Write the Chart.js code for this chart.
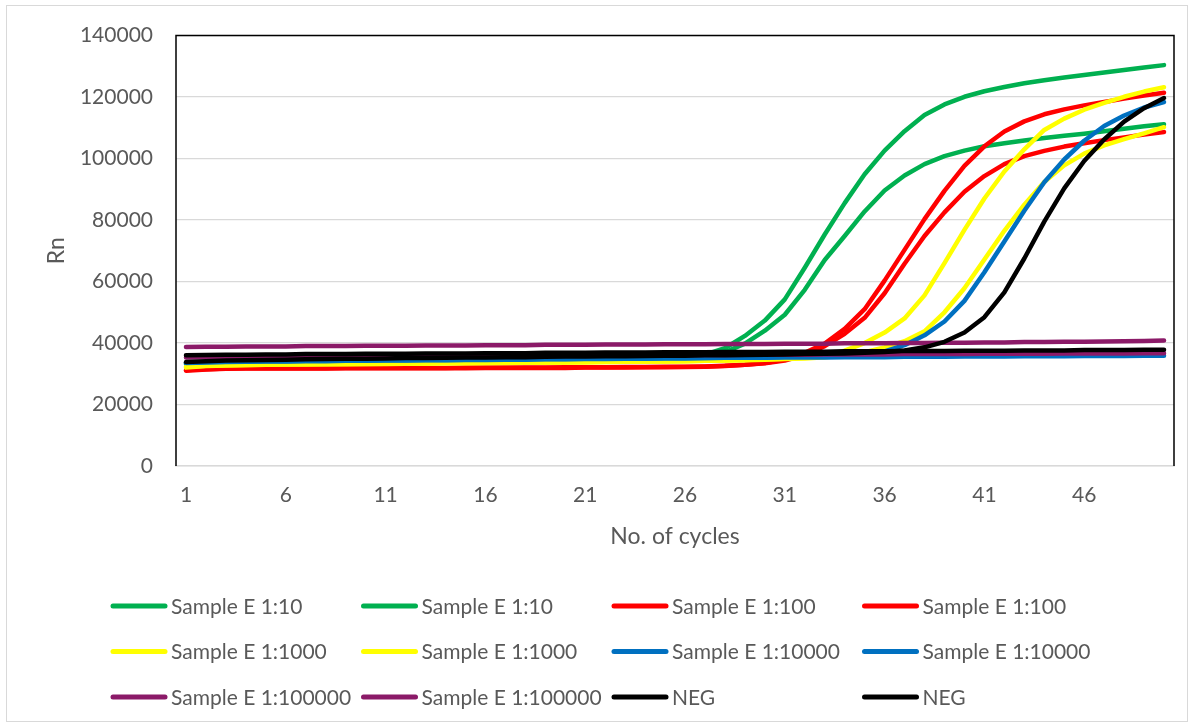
<!DOCTYPE html>
<html>
<head>
<meta charset="utf-8">
<title>Rn vs cycles</title>
<script src="https://cdn.jsdelivr.net/npm/chart.js@4.4.1/dist/chart.umd.min.js"></script>
<style>
  html, body { margin: 0; padding: 0; background: #fff; }
  canvas { display: block; }
</style>
</head>
<body>
<canvas id="rnChart" width="1194" height="728"></canvas>
<script>
// cycle numbers on the x axis
const cycles = [1, 2, 3, 4, 5, 6, 7, 8, 9, 10,
    11, 12, 13, 14, 15, 16, 17, 18, 19, 20,
    21, 22, 23, 24, 25, 26, 27, 28, 29, 30,
    31, 32, 33, 34, 35, 36, 37, 38, 39, 40,
    41, 42, 43, 44, 45, 46, 47, 48, 49, 50];

// y axis range
const rnMin = 0;
const rnMax = 140000;
const rnStep = 20000;

// Rn readings per cycle
const e10a = [33500, 33600, 33600, 33700, 33700, 33800, 33800, 33800, 33900, 33900,
    33900, 34000, 34000, 34000, 34100, 34100, 34100, 34200, 34200, 34200,
    34300, 34300, 34400, 34500, 34700, 35100, 36200, 38300, 42300, 47300,
    54200, 64500, 75300, 85500, 94900, 102600, 108900, 114200, 117600, 120100,
    121900, 123300, 124500, 125500, 126400, 127200, 128000, 128800, 129600, 130400];
const e10b = [33200, 33300, 33300, 33400, 33400, 33500, 33500, 33500, 33600, 33600,
    33600, 33700, 33700, 33700, 33800, 33800, 33800, 33900, 33900, 33900,
    34000, 34000, 34100, 34200, 34400, 34800, 35500, 37000, 39800, 44000,
    49200, 57300, 67000, 74800, 82800, 89600, 94500, 98200, 100800, 102600,
    104000, 105000, 105900, 106700, 107400, 108100, 108900, 109700, 110500, 111200];
const e100a = [31000, 31400, 31600, 31700, 31700, 31700, 31700, 31700, 31800, 31800,
    31800, 31800, 31800, 31800, 31800, 31900, 31900, 31900, 31900, 31900,
    32000, 32000, 32000, 32100, 32100, 32200, 32300, 32500, 32900, 33500,
    34600, 36800, 39800, 44600, 51000, 60300, 70300, 80300, 89500, 97600,
    104000, 108800, 112100, 114400, 116000, 117300, 118400, 119500, 120500, 121400];
const e100b = [31200, 31500, 31700, 31800, 31800, 31800, 31800, 31800, 31900, 31900,
    31900, 31900, 31900, 31900, 32000, 32000, 32000, 32000, 32000, 32100,
    32100, 32100, 32200, 32200, 32300, 32300, 32400, 32600, 32900, 33400,
    34300, 36100, 39000, 43000, 48200, 56200, 65800, 74800, 82500, 89200,
    94300, 98200, 100800, 102500, 103900, 105000, 106000, 106900, 107800, 108600];
const e1000a = [32000, 32500, 32700, 32800, 32900, 33000, 33000, 33100, 33100, 33200,
    33200, 33300, 33300, 33400, 33400, 33500, 33500, 33600, 33600, 33700,
    33700, 33800, 33900, 33900, 34000, 34100, 34200, 34300, 34500, 34700,
    34900, 35300, 36000, 37500, 40000, 43400, 48000, 55500, 66000, 76800,
    87000, 95800, 103000, 109300, 113000, 115900, 118100, 120100, 121800, 123200];
const e1000b = [32300, 32600, 32800, 32900, 33000, 33000, 33100, 33100, 33200, 33200,
    33300, 33300, 33400, 33400, 33500, 33500, 33600, 33600, 33700, 33700,
    33800, 33800, 33900, 34000, 34000, 34100, 34200, 34300, 34400, 34600,
    34800, 35000, 35400, 36000, 37000, 38600, 40600, 43800, 50000, 57800,
    67200, 76500, 85000, 92400, 97800, 101600, 104300, 106300, 108200, 110200];
const e10000a = [33500, 33700, 33800, 33900, 34000, 34000, 34100, 34100, 34200, 34200,
    34300, 34300, 34400, 34400, 34500, 34500, 34600, 34600, 34700, 34700,
    34800, 34800, 34900, 34900, 35000, 35000, 35100, 35200, 35300, 35400,
    35500, 35600, 35800, 36000, 36400, 37300, 39300, 42500, 47000, 53700,
    63000, 73000, 83000, 92300, 99700, 105800, 110600, 114000, 116600, 118400];
const e10000b = [33600, 33800, 33900, 34000, 34100, 34100, 34200, 34200, 34300, 34300,
    34400, 34400, 34500, 34500, 34600, 34600, 34700, 34700, 34800, 34800,
    34900, 34900, 35000, 35000, 35100, 35100, 35100, 35200, 35200, 35200,
    35300, 35300, 35300, 35400, 35400, 35400, 35500, 35500, 35500, 35600,
    35600, 35600, 35700, 35700, 35700, 35800, 35800, 35800, 35900, 35900];
const e100000a = [38700, 38800, 38800, 38900, 38900, 38900, 39000, 39000, 39000, 39100,
    39100, 39100, 39200, 39200, 39200, 39300, 39300, 39300, 39400, 39400,
    39400, 39500, 39500, 39500, 39600, 39600, 39600, 39700, 39700, 39700,
    39800, 39800, 39800, 39900, 39900, 39900, 40000, 40000, 40100, 40100,
    40200, 40200, 40300, 40300, 40400, 40400, 40500, 40600, 40700, 40800];
const e100000b = [35300, 35400, 35400, 35500, 35500, 35500, 35600, 35600, 35600, 35700,
    35700, 35700, 35700, 35800, 35800, 35800, 35900, 35900, 35900, 35900,
    36000, 36000, 36000, 36000, 36100, 36100, 36100, 36100, 36200, 36200,
    36200, 36200, 36300, 36300, 36300, 36300, 36400, 36400, 36400, 36400,
    36500, 36500, 36500, 36500, 36600, 36600, 36600, 36600, 36700, 36700];
const negA = [36000, 36100, 36200, 36200, 36300, 36300, 36400, 36400, 36400, 36500,
    36500, 36500, 36600, 36600, 36600, 36700, 36700, 36700, 36800, 36800,
    36800, 36900, 36900, 36900, 37000, 37000, 37000, 37100, 37100, 37100,
    37200, 37200, 37200, 37300, 37300, 37300, 37400, 37400, 37400, 37500,
    37500, 37500, 37600, 37600, 37600, 37700, 37700, 37700, 37800, 37800];
const negB = [33800, 34100, 34300, 34400, 34500, 34600, 34700, 34800, 34900, 34900,
    35000, 35100, 35100, 35200, 35300, 35300, 35400, 35400, 35500, 35600,
    35600, 35700, 35700, 35800, 35900, 35900, 36000, 36000, 36100, 36200,
    36300, 36400, 36500, 36600, 36800, 37100, 37600, 38600, 40400, 43400,
    48400, 56500, 67500, 79500, 90300, 99200, 106200, 112000, 116400, 119700];

const seriesNames = ['Sample E 1:10', 'Sample E 1:10', 'Sample E 1:100', 'Sample E 1:100',
    'Sample E 1:1000', 'Sample E 1:1000', 'Sample E 1:10000', 'Sample E 1:10000',
    'Sample E 1:100000', 'Sample E 1:100000', 'NEG', 'NEG'];
const seriesValues = [e10a, e10b, e100a, e100b, e1000a, e1000b,
    e10000a, e10000b, e100000a, e100000b, negA, negB];
const seriesColors = ['#00B050', '#00B050', '#FF0000', '#FF0000', '#FFFF00', '#FFFF00',
    '#0070C0', '#0070C0', '#8B1A68', '#8B1A68', '#000000', '#000000'];

const textGray = '#595959';
const fontFamily = 'Lato, "Open Sans", sans-serif';

// white background, outer frame and plot-area frame
const framePlugin = {
    id: 'frame',
    beforeDraw(chart) {
        const ctx = chart.ctx;
        ctx.save();
        ctx.fillStyle = '#fff';
        ctx.fillRect(0, 0, chart.width, chart.height);
        ctx.strokeStyle = '#D9D9D9';
        ctx.lineWidth = 1;
        ctx.strokeRect(6.5, 5.5, chart.width - 13, chart.height - 12);
        ctx.restore();
    },
    beforeDatasetsDraw(chart) {
        const { ctx, chartArea: a } = chart;
        ctx.save();
        ctx.strokeStyle = '#000';
        ctx.lineWidth = 1.5;
        ctx.beginPath();
        ctx.moveTo(a.left, a.bottom);
        ctx.lineTo(a.left, a.top);
        ctx.lineTo(a.right, a.top);
        ctx.lineTo(a.right, a.bottom);
        ctx.stroke();
        ctx.restore();
    }
};

// legend laid out as a 4-column grid under the axis title
const gridLegend = {
    id: 'gridLegend',
    afterDraw(chart) {
        const ctx = chart.ctx;
        ctx.save();
        ctx.font = '21px ' + fontFamily;
        ctx.fillStyle = textGray;
        ctx.textBaseline = 'middle';
        ctx.textAlign = 'left';
        chart.data.datasets.forEach((ds, i) => {
            const x = 113 + (i % 4) * 250.5;
            const y = 606 + Math.floor(i / 4) * 45.5;
            ctx.strokeStyle = ds.borderColor;
            ctx.lineWidth = 5;
            ctx.lineCap = 'round';
            ctx.beginPath();
            ctx.moveTo(x, y);
            ctx.lineTo(x + 52, y);
            ctx.stroke();
            ctx.fillText(ds.label, x + 58, y + 1);
        });
        ctx.restore();
    }
};

const datasets = seriesValues.map((vals, i) => ({
    label: seriesNames[i],
    data: vals,
    borderColor: seriesColors[i],
    backgroundColor: seriesColors[i],
    borderWidth: 4.5,
    borderCapStyle: 'round',
    borderJoinStyle: 'round',
    pointRadius: 0,
    tension: 0,
    fill: false,
    order: seriesValues.length - i
}));

new Chart(document.getElementById('rnChart'), {
    type: 'line',
    data: { labels: cycles, datasets: datasets },
    plugins: [framePlugin, gridLegend],
    options: {
        responsive: false,
        animation: false,
        layout: { padding: { top: 34, right: 20, bottom: 172, left: 0 } },
        plugins: {
            legend: { display: false },
            tooltip: { enabled: false }
        },
        scales: {
            x: {
                type: 'category',
                offset: true,
                grid: { display: false, drawTicks: false },
                border: { display: true, color: '#D9D9D9', width: 1.5 },
                ticks: {
                    autoSkip: false,
                    maxRotation: 0,
                    color: textGray,
                    font: { family: fontFamily, size: 21 },
                    padding: 17,
                    callback: (val, idx) => (idx % 5 === 0 ? cycles[idx] : '')
                },
                title: {
                    display: true,
                    text: 'No. of cycles',
                    color: textGray,
                    font: { family: fontFamily, size: 23 },
                    padding: { top: 0, bottom: 6 }
                },
                afterFit: (scale) => { scale.height = 90; }
            },
            y: {
                min: rnMin,
                max: rnMax,
                grid: { color: '#D9D9D9', lineWidth: 1.3, drawTicks: false },
                border: { display: false },
                ticks: {
                    stepSize: rnStep,
                    color: textGray,
                    font: { family: fontFamily, size: 21 },
                    padding: 23,
                    callback: (val) => String(val)
                },
                title: {
                    display: true,
                    text: 'Rn',
                    color: textGray,
                    font: { family: fontFamily, size: 23 },
                    padding: { top: 43, bottom: 0 }
                },
                afterFit: (scale) => { scale.width = 176; }
            }
        }
    }
});
</script>
</body>
</html>
